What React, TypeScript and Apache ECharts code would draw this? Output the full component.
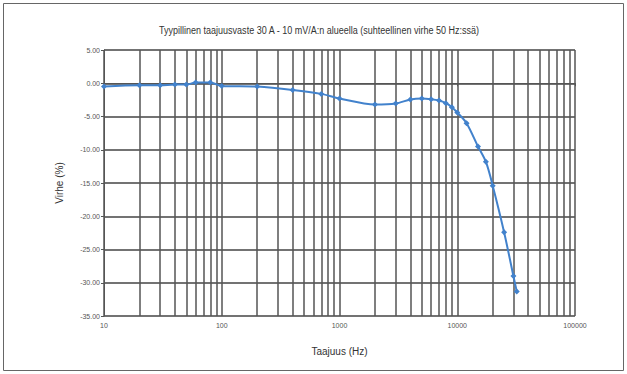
import React, { useEffect, useRef } from "react";
import * as echarts from "echarts";

const frequencies = [10, 20, 30, 40, 50, 60, 80, 100, 200, 400, 700, 1000, 2000, 3000, 4000, 5000, 6000, 7000, 8000, 9000, 10000, 12000, 15000, 17500, 20000, 25000, 30000, 32000];
const errors = [-0.5, -0.3, -0.3, -0.2, -0.2, 0.1, 0.1, -0.4, -0.5, -1.0, -1.6, -2.3, -3.2, -3.05, -2.45, -2.3, -2.4, -2.6, -3.0, -3.6, -4.4, -6.0, -9.5, -11.8, -15.4, -22.4, -29.0, -31.3];
const minorGrid = [20, 30, 40, 50, 60, 70, 80, 90, 200, 300, 400, 500, 600, 700, 800, 900, 2000, 3000, 4000, 5000, 6000, 7000, 8000, 9000, 20000, 30000, 40000, 50000, 60000, 70000, 80000, 90000];
const title = "Tyypillinen taajuusvaste 30 A - 10 mV/A:n alueella (suhteellinen virhe 50 Hz:ssä)";
const xName = "Taajuus (Hz)";
const yName = "Virhe (%)";

const FONT = "'Liberation Sans', Arial, sans-serif";

export default function App() {
  const ref = useRef<HTMLDivElement>(null);
  useEffect(() => {
    if (!ref.current) return;
    const chart = echarts.init(ref.current, null, { renderer: "svg" });
    chart.setOption({
      animation: false,
      backgroundColor: "#ffffff",
      graphic: [
        {
          type: "rect",
          shape: { x: 3.5, y: 3.5, width: 620, height: 367 },
          style: { fill: "none", stroke: "#666", lineWidth: 1 },
          silent: true,
        },
        {
          type: "text",
          x: 319,
          y: 30,
          scaleX: 0.82,
          style: {
            text: title,
            textAlign: "center",
            textVerticalAlign: "middle",
            fontFamily: FONT,
            fontSize: 11,
            fill: "#333",
          },
          silent: true,
        },
      ],
      grid: { left: 104, right: 52, top: 50, bottom: 58 },
      xAxis: {
        type: "log",
        logBase: 10,
        min: 10,
        max: 100000,
        name: xName,
        nameLocation: "middle",
        nameGap: 30,
        nameTextStyle: { fontFamily: FONT, fontSize: 10, color: "#333" },
        axisLine: { lineStyle: { color: "#555" } },
        axisTick: { show: true, length: 3, lineStyle: { color: "#555" } },
        axisLabel: {
          fontFamily: FONT,
          fontSize: 7,
          color: "#555",
          margin: 6,
          formatter: (v: number) => String(Math.round(v)),
        },
        splitLine: { show: true, lineStyle: { color: "#555", width: 1.5 } },
      },
      yAxis: {
        type: "value",
        min: -35,
        max: 5,
        interval: 5,
        name: yName,
        nameLocation: "middle",
        nameGap: 40,
        nameTextStyle: { fontFamily: FONT, fontSize: 10, color: "#333" },
        axisLine: { show: true, lineStyle: { color: "#555" } },
        axisTick: { show: true, length: 3, lineStyle: { color: "#555" } },
        axisLabel: {
          fontFamily: FONT,
          fontSize: 7,
          color: "#555",
          margin: 4,
          formatter: (v: number) => v.toFixed(2),
        },
        splitLine: { show: true, lineStyle: { color: "#444", width: 1.5 } },
      },
      series: [
        {
          type: "line",
          data: frequencies.map((f, i) => [f, errors[i]]),
          smooth: 0.3,
          symbol: "diamond",
          symbolSize: 6,
          itemStyle: { color: "#4282cc" },
          lineStyle: { color: "#4282cc", width: 2 },
          z: 5,
          markLine: {
            silent: true,
            symbol: "none",
            label: { show: false },
            lineStyle: { color: "#555", width: 1.5, type: "solid" },
            data: minorGrid.map((v) => ({ xAxis: v })),
            z: 1,
          },
        },
      ],
    });
    return () => chart.dispose();
  }, []);
  return (
    <div
      ref={ref}
      style={{ position: "absolute", left: 0, top: 0, width: 627, height: 374 }}
    />
  );
}
